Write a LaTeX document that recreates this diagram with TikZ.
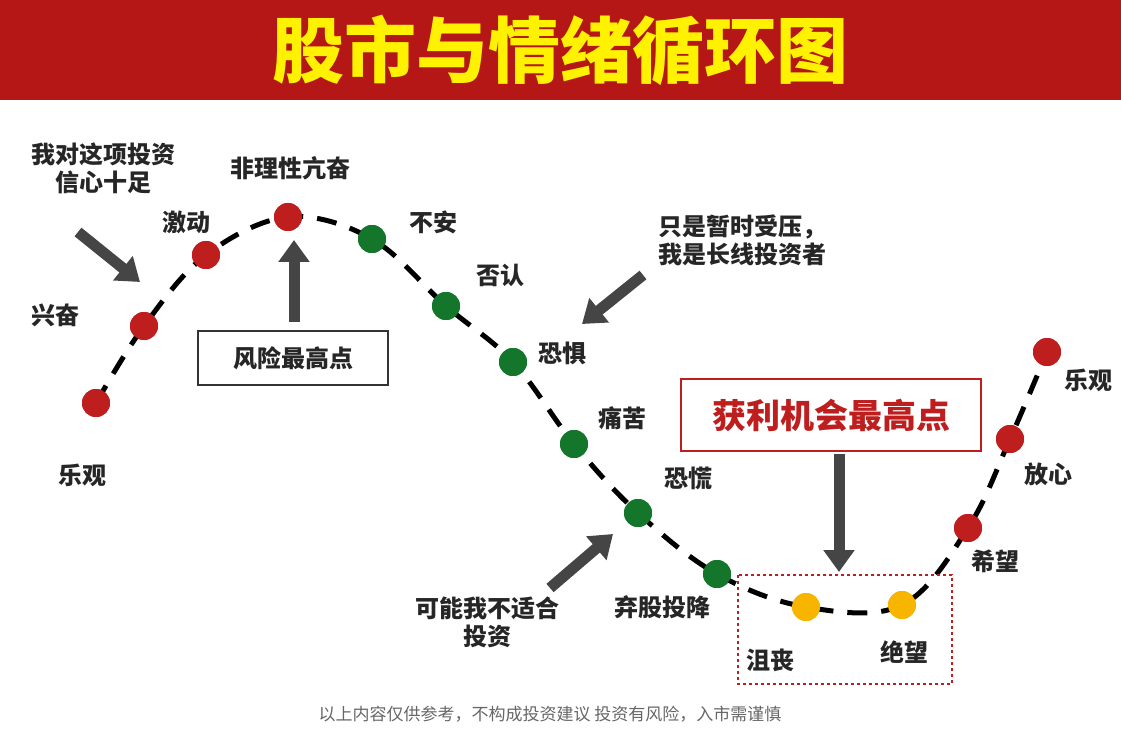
\documentclass[tikz,border=0pt]{standalone}
\usepackage{fontspec}
\setmainfont{Noto Sans CJK SC}
\usetikzlibrary{arrows.meta, positioning}
\definecolor{barred}{HTML}{B51616}
\definecolor{redpt}{HTML}{BE1E1E}
\definecolor{greenpt}{HTML}{13762B}
\definecolor{yellowpt}{HTML}{F7B500}
\definecolor{arrowgray}{HTML}{454545}
\tikzset{
  redmood/.style={circle, fill=redpt, minimum size=28pt, inner sep=0pt},
  greenmood/.style={circle, fill=greenpt, minimum size=28pt, inner sep=0pt},
  yellowmood/.style={circle, fill=yellowpt, minimum size=28pt, inner sep=0pt},
  mood/.style={font=\fontsize{24}{28}\selectfont\bfseries, text=black!85, align=center},
  hint/.style={line width=11pt, draw=arrowgray, -{Triangle[length=22pt,width=30pt]}}
}
\begin{document}
\begin{tikzpicture}[x=1pt, y=-1pt]
  \useasboundingbox (0,0) rectangle (1121,735);
  \fill[barred] (0,0) rectangle (1121,100);
  \node (title) at (560,50) {\fontsize{72}{80}\selectfont\bfseries\color{yellow}股市与情绪循环图};

  % mood points
  \node[redmood] (m1) at (96,403) {};
  \node[redmood] (m2) at (144,326) {};
  \node[redmood] (m3) at (206,255) {};
  \node[redmood] (m4) at (288,217) {};
  \node[greenmood] (m5) at (372,239) {};
  \node[greenmood] (m6) at (446,306) {};
  \node[greenmood] (m7) at (513,362) {};
  \node[greenmood] (m8) at (574,444) {};
  \node[greenmood] (m9) at (638,513) {};
  \node[greenmood] (m10) at (717,574) {};
  \node[yellowmood] (m11) at (806,607) {};
  \node[yellowmood] (m12) at (902,605) {};
  \node[redmood] (m13) at (968,528) {};
  \node[redmood] (m14) at (1010,439) {};
  \node[redmood] (m15) at (1047,352) {};
  \begin{scope}[on background layer/.style={}]
  \draw[line width=5pt, dash pattern=on 20pt off 14pt] plot[smooth, tension=0.6] coordinates
    {(m1) (m2) (m3) (m4) (m5) (m6) (m7) (m8) (m9) (m10) (m11) (m12) (m13) (m14) (m15)};
  \end{scope}
  \foreach \i/\c in {1/redmood,2/redmood,3/redmood,4/redmood,5/greenmood,6/greenmood,7/greenmood,8/greenmood,9/greenmood,10/greenmood,11/yellowmood,12/yellowmood,13/redmood,14/redmood,15/redmood}
    \node[\c] at (m\i) {};

  % labels
  \node[mood] (l1) at (82,475) {乐观};
  \node[mood] (l2) at (55,315) {兴奋};
  \node[mood] (l3) at (186,222) {激动};
  \node[mood] (l4) at (290,168) {非理性亢奋};
  \node[mood] (l5) at (433,222) {不安};
  \node[mood] (l6) at (500,275) {否认};
  \node[mood] (l7) at (562,353) {恐惧};
  \node[mood] (l8) at (622,418) {痛苦};
  \node[mood] (l9) at (688,478) {恐慌};
  \node[mood] (l10) at (662,607) {弃股投降};
  \node[mood] (l11) at (770,660) {沮丧};
  \node[mood] (l12) at (904,652) {绝望};
  \node[mood] (l13) at (995,561) {希望};
  \node[mood] (l14) at (1048,474) {放心};
  \node[mood] (l15) at (1088,380) {乐观};
  \node[mood] (t1) at (103,168) {我对这项投资\\信心十足};
  \node[mood] (t2) at (742,240) {只是暂时受压，\\我是长线投资者};
  \node[mood] (t3) at (487,622) {可能我不适合\\投资};

  \node[mood, draw=black!80, line width=1.5pt, minimum width=190pt, minimum height=54pt] (risk) at (293,358) {风险最高点};
  \node[draw=redpt, line width=2.5pt, minimum width=300pt, minimum height=72pt, font=\fontsize{34}{40}\selectfont\bfseries, text=redpt] (gain) at (831,415) {获利机会最高点};
  \draw[redpt, line width=2pt, dashed] (738,575) rectangle (952,684);

  % arrows
  \coordinate (a1s) at (78,232);  \coordinate (a1e) at (140,282);
  \coordinate (a2s) at (294,322); \coordinate (a2e) at (294,240);
  \coordinate (a3s) at (643,275); \coordinate (a3e) at (582,324);
  \coordinate (a4s) at (550,588); \coordinate (a4e) at (613,534);
  \coordinate (a5e) at (839,572);
  \draw[hint] (a1s) -- (a1e);
  \draw[hint] (a2s) -- (a2e);
  \draw[hint] (a3s) -- (a3e);
  \draw[hint] (a4s) -- (a4e);
  \draw[hint] (gain.south) ++(8,2) -- (a5e);

  \node[text=black!60, font=\fontsize{17}{20}\selectfont] (note) at (550,714) {以上内容仅供参考，不构成投资建议 投资有风险，入市需谨慎};
\end{tikzpicture}
\end{document}
